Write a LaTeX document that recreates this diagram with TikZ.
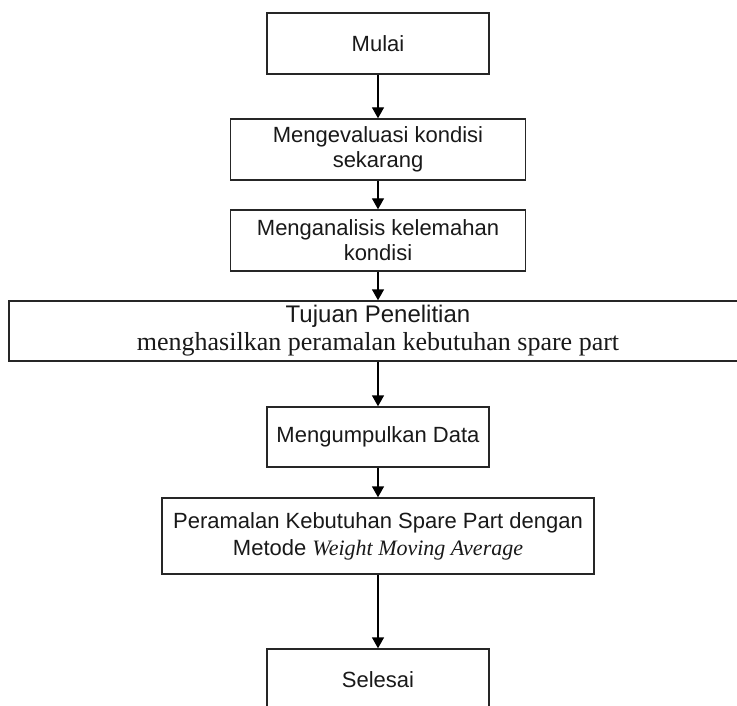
\documentclass[tikz,border=0pt]{standalone}
\usepackage{fontspec}
\setmainfont{Liberation Sans}
\newfontfamily\seriffont{Liberation Serif}
\usetikzlibrary{arrows.meta}
\begin{document}
\begin{tikzpicture}[x=1pt,y=-1pt,
  box/.style={draw=black!85, line width=1.4pt, align=center, inner sep=0pt,
    font=\fontsize{22}{25}\selectfont, text=black!90},
  flow/.style={draw=black, line width=1.4pt, -{Triangle[length=11pt,width=12pt]}}]
\useasboundingbox (0,0) rectangle (737,706);
\clip (0,0) rectangle (737,706);
\fill[white] (0,0) rectangle (737,706);
\node[box, minimum width=222pt, minimum height=61pt] (start) at (378,43.5) {Mulai};
\node[box, minimum width=295pt, minimum height=61pt] (eval) at (378,149.5) {Mengevaluasi kondisi\\sekarang};
\node[box, minimum width=295pt, minimum height=61pt] (anal) at (378,240.5) {Menganalisis kelemahan\\kondisi};
\node[box, minimum width=738pt, minimum height=60pt] (goal) at (378,331)
  {{\fontsize{24}{27}\selectfont Tujuan Penelitian}\\[3pt]
   {\seriffont\fontsize{26}{28}\selectfont menghasilkan peramalan kebutuhan spare part}};
\node[box, minimum width=222pt, minimum height=60pt] (data) at (378,437) {Mengumpulkan Data};
\node[box, minimum width=432pt, minimum height=76pt] (fore) at (378,536)
  {Peramalan Kebutuhan Spare Part dengan\\[2pt]Metode {\seriffont\itshape Weight Moving Average}};
\node[box, minimum width=222pt, minimum height=61pt] (end) at (378,679.5) {Selesai};
\draw[flow] (start) -- (eval);
\draw[flow] (eval) -- (anal);
\draw[flow] (anal) -- (goal);
\draw[flow] (goal) -- (data);
\draw[flow] (data) -- (fore);
\draw[flow] (fore) -- (end);
\end{tikzpicture}
\end{document}
